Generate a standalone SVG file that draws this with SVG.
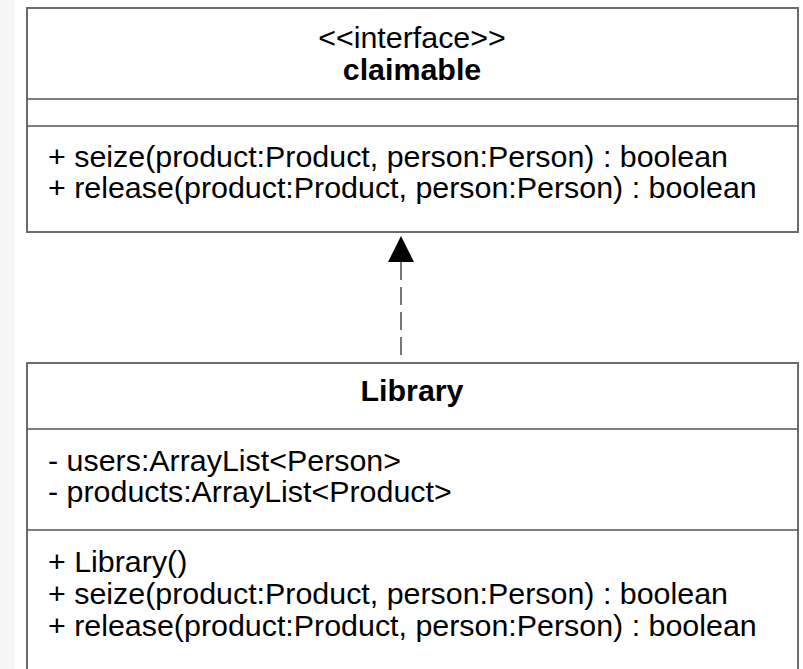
<svg xmlns="http://www.w3.org/2000/svg" width="803" height="669" viewBox="0 0 803 669">
<defs>
<style>
.box{fill:#ffffff;stroke:#6b6b6b;stroke-width:2}
.div{stroke:#555555;stroke-width:1.5}
.t{font-family:"Liberation Sans",Arial,sans-serif;font-size:30.4px;fill:#000000}
.c{text-anchor:middle}
.b{font-weight:bold}
.dash{stroke:#555555;stroke-width:1.6;stroke-dasharray:18 7;fill:none}
</style>
</defs>
<rect x="0" y="0" width="803" height="669" fill="#ffffff"/>
<rect x="0" y="0" width="15" height="669" fill="#f7f7f7"/>
<g id="claimable">
<rect class="box" x="27" y="8" width="771" height="224"/>
<line class="div" x1="27" y1="99" x2="798" y2="99"/>
<line class="div" x1="27" y1="126" x2="798" y2="126"/>
<text class="t c" x="412" y="48">&lt;&lt;interface&gt;&gt;</text>
<text class="t c b" x="412" y="80">claimable</text>
<text class="t" x="48" y="167">+ seize(product:Product, person:Person) : boolean</text>
<text class="t" x="48" y="198">+ release(product:Product, person:Person) : boolean</text>
</g>
<g id="library">
<rect class="box" x="27" y="363" width="771" height="340"/>
<line class="div" x1="27" y1="429" x2="798" y2="429"/>
<line class="div" x1="27" y1="530" x2="798" y2="530"/>
<text class="t c b" x="412" y="401">Library</text>
<text class="t" x="48" y="471">- users:ArrayList&lt;Person&gt;</text>
<text class="t" x="48" y="502">- products:ArrayList&lt;Product&gt;</text>
<text class="t" x="48" y="572">+ Library()</text>
<text class="t" x="48" y="604">+ seize(product:Product, person:Person) : boolean</text>
<text class="t" x="48" y="636">+ release(product:Product, person:Person) : boolean</text>
</g>
<g id="connectors">
<line class="dash" x1="401" y1="262" x2="401" y2="356"/>
<path d="M401,236 L414,262 L388,262 Z" fill="#000000"/>
</g>
</svg>
